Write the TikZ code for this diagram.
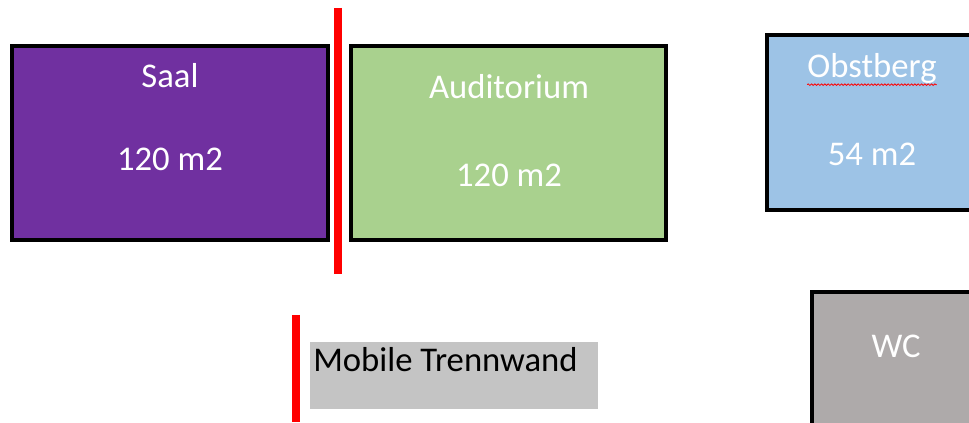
\documentclass[tikz,border=0pt]{standalone}
\usepackage{fontspec}
\setmainfont{Carlito}
\usetikzlibrary{decorations.pathmorphing}
\definecolor{saalviolett}{RGB}{112,48,160}
\definecolor{audigruen}{RGB}{169,209,142}
\definecolor{obstblau}{RGB}{157,195,230}
\definecolor{wcgrau}{RGB}{174,170,170}
\definecolor{legendgrau}{RGB}{196,196,196}
\definecolor{wandrot}{RGB}{255,0,0}
\tikzset{raum/.style={draw=black, line width=3pt},
  raumtext/.style={text=white, anchor=base, inner sep=0pt, font=\fontsize{26}{30}\selectfont},
  wand/.style={draw=wandrot, line width=6.5pt}}

\begin{document}
\begin{tikzpicture}[x=0.75pt,y=-0.75pt]
   \clip (0,0) rectangle (969,423);
   % Raeume
   \filldraw[raum, fill=saalviolett] (12,46) rectangle (328,240);
   \filldraw[raum, fill=audigruen] (351,46) rectangle (666,240);
   \filldraw[raum, fill=obstblau] (767,35) rectangle (980,210);
   \filldraw[raum, fill=wcgrau] (812,292) rectangle (980,440);
   % Trennwand zwischen Saal und Auditorium
   \draw[wand] (338,8) -- (338,274);
   % Beschriftung
   \node[raumtext] (saal) at (170,88) {Saal};
   \node[raumtext] (saalflaeche) at (170,171) {120 m2};
   \node[raumtext] (audi) at (509,99) {Auditorium};
   \node[raumtext] (audiflaeche) at (509,187) {120 m2};
   \node[raumtext] (obst) at (872,78) {Obstberg};
   \node[raumtext] (obstflaeche) at (872,166) {54 m2};
   \node[raumtext] (wc) at (896,358) {WC};
   \draw[wandrot, line width=0.6pt, decorate, decoration={snake, amplitude=0.6pt, segment length=2.5pt}] ([yshift=-5pt]obst.base west) -- ([yshift=-5pt]obst.base east);
   % Legende
   \draw[wand, line width=6pt] (296,315) -- (296,422);
   \fill[legendgrau] (310,342) rectangle (598,409);
   \node[anchor=base west, inner sep=0pt, font=\fontsize{26}{30}\selectfont] (legende) at (313,371) {Mobile Trennwand};
\end{tikzpicture}
\end{document}
